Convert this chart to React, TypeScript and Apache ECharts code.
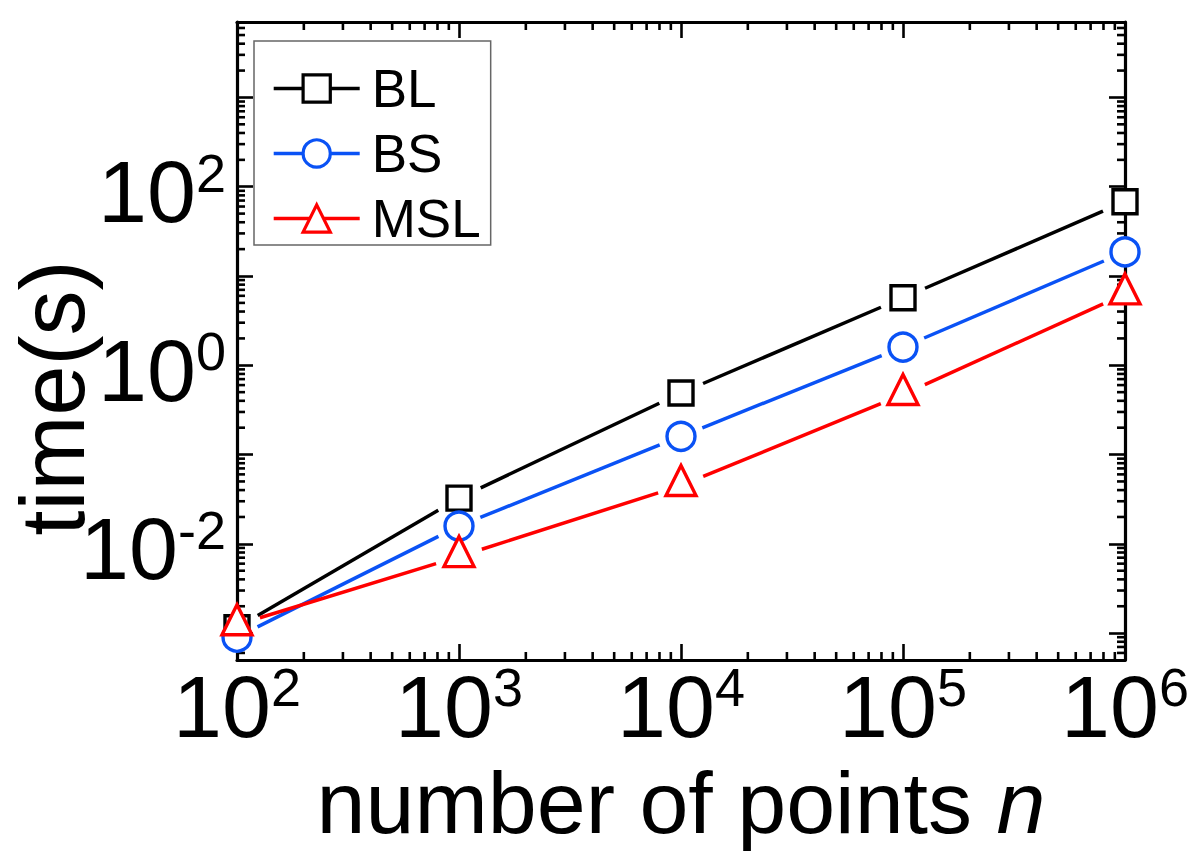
import React, { useEffect, useRef } from 'react';
import * as echarts from 'echarts';

// Problem sizes (number of points n)
const nValues = [1e2, 1e3, 1e4, 1e5, 1e6];
// Running times in seconds
const blTimes = [1.15e-3, 0.0325, 0.49, 5.7, 68];
const bsTimes = [9.0e-4, 0.0158, 0.16, 1.6, 18.6];
const mslTimes = [1.24e-3, 0.0072, 0.045, 0.47, 6.3];

// Axis ranges
const xRange = [1e2, 1e6];
const yRange = [5e-4, 7e3];

// Minor (logarithmic) tick positions: mantissas 2..9 in every decade
const minorMantissas = [2, 3, 4, 5, 6, 7, 8, 9];
const xDecades = [1e2, 1e3, 1e4, 1e5];
const yDecades = [1e-4, 1e-3, 1e-2, 1e-1, 1e0, 1e1, 1e2, 1e3];

const FONT = "'Liberation Sans', Arial, Helvetica, sans-serif";
const BLUE = '#0a52f5';
const RED = '#ff0000';
const BLACK = '#000000';

// gap: distance (px) between a marker's centre and where its connecting line stops
const seriesDefs = [
  { name: 'BL', values: blTimes, color: BLACK, symbol: 'rect', size: 24, offset: [0, 0], gap: 24 },
  { name: 'BS', values: bsTimes, color: BLUE, symbol: 'circle', size: 28, offset: [0, 0], gap: 23 },
  { name: 'MSL', values: mslTimes, color: RED, symbol: 'triangle', size: 30, offset: [0, -5], gap: 24 },
];

function minorTicks(decades: number[], lo: number, hi: number): number[] {
  const out: number[] = [];
  decades.forEach((d) => minorMantissas.forEach((m) => {
    const v = m * d;
    if (v > lo * 1.0001 && v < hi * 0.9999) out.push(v);
  }));
  return out;
}

function powerLabel(value: number, everyOther: boolean): string {
  const e = Math.log10(value);
  const r = Math.round(e);
  if (Math.abs(e - r) > 1e-6) return '';
  if (everyOther && r % 2 !== 0) return '';
  return `{b|10}{s|${r}}`;
}

const labelRich = {
  b: { fontSize: 88, lineHeight: 90, verticalAlign: 'bottom', fontFamily: FONT, color: '#000' },
  s: { fontSize: 54, lineHeight: 40, verticalAlign: 'top', fontFamily: FONT, color: '#000' },
};

export default function App() {
  const ref = useRef<HTMLDivElement>(null);

  useEffect(() => {
    if (!ref.current) return;
    const chart = echarts.init(ref.current, undefined, { renderer: 'svg' });

    const xMinor = minorTicks(xDecades, xRange[0], xRange[1]);
    const yMinor = minorTicks(yDecades, yRange[0], yRange[1]);

    const axisLineStyle = { color: '#000', width: 3.2 };
    const majorTick = { show: true, inside: true, length: 16, lineStyle: { color: '#000', width: 2.6 } };

    // Legend entries (line + symbol icon); the plotted marks come from the series below
    const legendSeries = seriesDefs.map((s) => ({
      type: 'line',
      name: s.name,
      data: [],
      symbol: s.symbol,
      symbolSize: s.size,
      lineStyle: { color: s.color, width: 3.4 },
      itemStyle: { color: '#fff', borderColor: s.color, borderWidth: 3.2 },
      silent: true,
    }));

    // Connecting segments, stopped short of each marker
    const segmentSeries = seriesDefs.map((s) => ({
      type: 'custom',
      name: s.name + ' segments',
      coordinateSystem: 'cartesian2d',
      dimensions: ['x0', 'y0', 'x1', 'y1'],
      data: nValues.slice(0, -1).map((n, i) => [n, s.values[i], nValues[i + 1], s.values[i + 1]]),
      encode: { x: [0, 2], y: [1, 3] },
      z: 2,
      silent: true,
      clip: false,
      renderItem: (params: any, api: any) => {
        const a = api.coord([api.value(0), api.value(1)]);
        const b = api.coord([api.value(2), api.value(3)]);
        const dx = b[0] - a[0];
        const dy = b[1] - a[1];
        const len = Math.hypot(dx, dy) || 1;
        const ux = dx / len;
        const uy = dy / len;
        return {
          type: 'line',
          shape: {
            x1: a[0] + ux * s.gap,
            y1: a[1] + uy * s.gap,
            x2: b[0] - ux * s.gap,
            y2: b[1] - uy * s.gap,
          },
          style: { stroke: s.color, lineWidth: 3.5, lineCap: 'butt' },
        };
      },
    }));

    // Hollow markers
    const markerSeries = seriesDefs.map((s) => ({
      type: 'scatter',
      name: s.name + ' markers',
      data: nValues.map((n, i) => [n, s.values[i]]),
      symbol: s.symbol,
      symbolSize: s.size,
      symbolOffset: s.offset,
      itemStyle: { color: '#fff', borderColor: s.color, borderWidth: 3.4, opacity: 1 },
      z: 5,
      clip: false,
      silent: true,
    }));

    const tickStyle = { stroke: '#000', lineWidth: 2.6 };

    const xMinorSeries = {
      type: 'custom',
      name: 'x minor ticks',
      coordinateSystem: 'cartesian2d',
      data: xMinor.map((v) => [v, yRange[0]]),
      z: 4,
      silent: true,
      clip: false,
      renderItem: (params: any, api: any) => {
        const cs = params.coordSys;
        const px = api.coord([api.value(0), api.value(1)])[0];
        const yb = cs.y + cs.height;
        return {
          type: 'group',
          children: [
            { type: 'line', shape: { x1: px, y1: yb, x2: px, y2: yb - 8 }, style: tickStyle },
            { type: 'line', shape: { x1: px, y1: cs.y, x2: px, y2: cs.y + 8 }, style: tickStyle },
          ],
        };
      },
    };

    const yMinorSeries = {
      type: 'custom',
      name: 'y minor ticks',
      coordinateSystem: 'cartesian2d',
      data: yMinor.map((v) => [xRange[0], v]),
      z: 4,
      silent: true,
      clip: false,
      renderItem: (params: any, api: any) => {
        const cs = params.coordSys;
        const py = api.coord([api.value(0), api.value(1)])[1];
        const xr = cs.x + cs.width;
        return {
          type: 'group',
          children: [
            { type: 'line', shape: { x1: cs.x, y1: py, x2: cs.x + 8, y2: py }, style: tickStyle },
            { type: 'line', shape: { x1: xr, y1: py, x2: xr - 8, y2: py }, style: tickStyle },
          ],
        };
      },
    };

    chart.setOption({
      animation: false,
      backgroundColor: '#ffffff',
      textStyle: { fontFamily: FONT },
      grid: { left: 237, right: 74, top: 22, bottom: 191, containLabel: false, outerBoundsMode: 'none' },
      legend: {
        show: true,
        left: 254,
        top: 41,
        orient: 'vertical',
        padding: [21, 10, 0, 18],
        itemGap: 12,
        itemWidth: 86,
        itemHeight: 34,
        borderColor: '#666666',
        borderWidth: 1.5,
        backgroundColor: '#ffffff',
        selectedMode: false,
        textStyle: { fontSize: 53, color: '#000', fontFamily: FONT, padding: [0, 0, 0, 7] },
        data: seriesDefs.map((s) => ({
          name: s.name,
          itemStyle: { color: '#fff', borderColor: s.color, borderWidth: 3.2, opacity: 1 },
          lineStyle: { color: s.color, width: 3.4, opacity: 1 },
        })),
      },
      xAxis: [
        {
          type: 'log',
          logBase: 10,
          min: xRange[0],
          max: xRange[1],
          position: 'bottom',
          z: 4,
          axisLine: { show: true, lineStyle: axisLineStyle },
          axisTick: majorTick,
          splitLine: { show: false },
          axisLabel: {
            show: true,
            margin: 0,
            formatter: (v: number) => powerLabel(v, false),
            rich: labelRich,
          },
          name: '{a|number of points }{i|n}',
          nameLocation: 'middle',
          nameGap: 102,
          nameMoveOverlap: false,
          nameTextStyle: {
            rich: {
              a: { fontSize: 88, lineHeight: 80, fontFamily: FONT, color: '#000' },
              i: { fontSize: 88, lineHeight: 80, fontFamily: FONT, fontStyle: 'italic', color: '#000' },
            },
          },
        },
        {
          type: 'log',
          logBase: 10,
          min: xRange[0],
          max: xRange[1],
          position: 'top',
          z: 4,
          axisLine: { show: true, lineStyle: axisLineStyle },
          axisTick: majorTick,
          splitLine: { show: false },
          axisLabel: { show: false },
        },
      ],
      yAxis: [
        {
          type: 'log',
          logBase: 10,
          min: yRange[0],
          max: yRange[1],
          position: 'left',
          z: 4,
          axisLine: { show: true, lineStyle: axisLineStyle },
          axisTick: majorTick,
          splitLine: { show: false },
          axisLabel: {
            show: true,
            margin: 11,
            padding: [8, 0, 0, 0],
            formatter: (v: number) => powerLabel(v, true),
            rich: labelRich,
          },
          name: 'time(s)',
          nameLocation: 'middle',
          nameRotate: 90,
          nameGap: 144,
          nameMoveOverlap: false,
          nameTextStyle: {
            fontSize: 90,
            lineHeight: 80,
            fontFamily: FONT,
            color: '#000',
            padding: [0, 114, 0, 0],
          },
        },
        {
          type: 'log',
          logBase: 10,
          min: yRange[0],
          max: yRange[1],
          position: 'right',
          z: 4,
          axisLine: { show: true, lineStyle: axisLineStyle },
          axisTick: majorTick,
          splitLine: { show: false },
          axisLabel: { show: false },
        },
      ],
      series: [...legendSeries, ...segmentSeries, xMinorSeries, yMinorSeries, ...markerSeries],
    });

    return () => chart.dispose();
  }, []);

  return (
    <div
      ref={ref}
      style={{ position: 'absolute', left: 0, top: 0, width: 1199, height: 851, background: '#fff' }}
    />
  );
}
